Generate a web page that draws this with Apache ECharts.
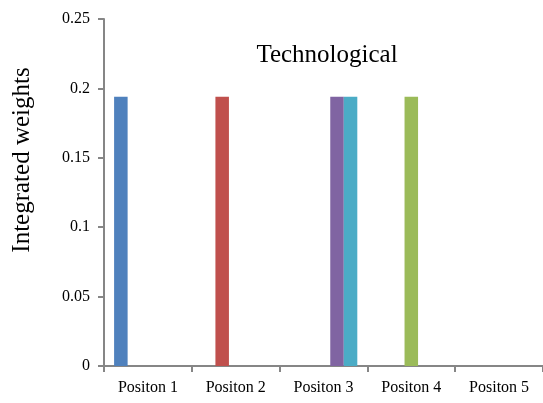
<!DOCTYPE html>
<html>
<head>
<meta charset="utf-8">
<script src="https://cdn.jsdelivr.net/npm/echarts@6/dist/echarts.min.js"></script>
<style>
  html, body { margin: 0; padding: 0; background: #fff; }
  #chart { width: 543px; height: 403px; }
</style>
</head>
<body>
<div id="chart"></div>
<script>
// Category labels along the x axis
var categories = ['Positon 1', 'Positon 2', 'Positon 3', 'Positon 4', 'Positon 5'];

// Integrated weight of each series at every position
var series1 = [0.194, 0, 0, 0, 0];
var series2 = [0, 0.194, 0, 0, 0];
var series3 = [0, 0, 0, 0.194, 0];
var series4 = [0, 0, 0.194, 0, 0];
var series5 = [0, 0, 0.194, 0, 0];

var seriesData = [series1, series2, series3, series4, series5];
var seriesColors = ['#4F81BD', '#C0504D', '#9BBB59', '#8064A2', '#4BACC6'];

var serif = '"Liberation Serif", "Times New Roman", serif';
var axisGrey = '#868686';

var chart = echarts.init(document.getElementById('chart'));

chart.setOption({
  animation: false,
  backgroundColor: '#ffffff',
  title: {
    text: 'Technological',
    left: 322,
    top: 38,
    textAlign: 'center',
    textStyle: { fontFamily: serif, fontSize: 25, fontWeight: 'normal', color: '#000' }
  },
  graphic: [{
    type: 'text',
    x: 10,
    y: 160,
    rotation: Math.PI / 2,
    style: {
      text: 'Integrated weights',
      font: '25px ' + serif,
      fill: '#000',
      textAlign: 'center',
      textVerticalAlign: 'top'
    }
  }],
  grid: { left: 104, right: 0, top: 19, bottom: 37, containLabel: false },
  xAxis: {
    type: 'category',
    data: categories,
    axisLine: { lineStyle: { color: axisGrey, width: 2 } },
    axisTick: { show: true, length: 6, alignWithLabel: false, lineStyle: { color: axisGrey, width: 2 } },
    axisLabel: { fontFamily: serif, fontSize: 16, color: '#000', margin: 14 },
    splitLine: { show: false }
  },
  yAxis: {
    type: 'value',
    min: 0,
    max: 0.25,
    interval: 0.05,
    axisLine: { show: true, lineStyle: { color: axisGrey, width: 2 } },
    axisTick: { show: true, length: 6, lineStyle: { color: axisGrey, width: 2 } },
    axisLabel: {
      fontFamily: serif, fontSize: 16, color: '#000', margin: 14,
      formatter: function (v) { return String(parseFloat(v.toFixed(2))); }
    },
    splitLine: { show: false }
  },
  series: seriesData.map(function (d, i) {
    return {
      type: 'bar',
      data: d,
      barGap: '0%',
      barCategoryGap: '23%',
      itemStyle: { color: seriesColors[i] }
    };
  })
});
</script>
</body>
</html>
